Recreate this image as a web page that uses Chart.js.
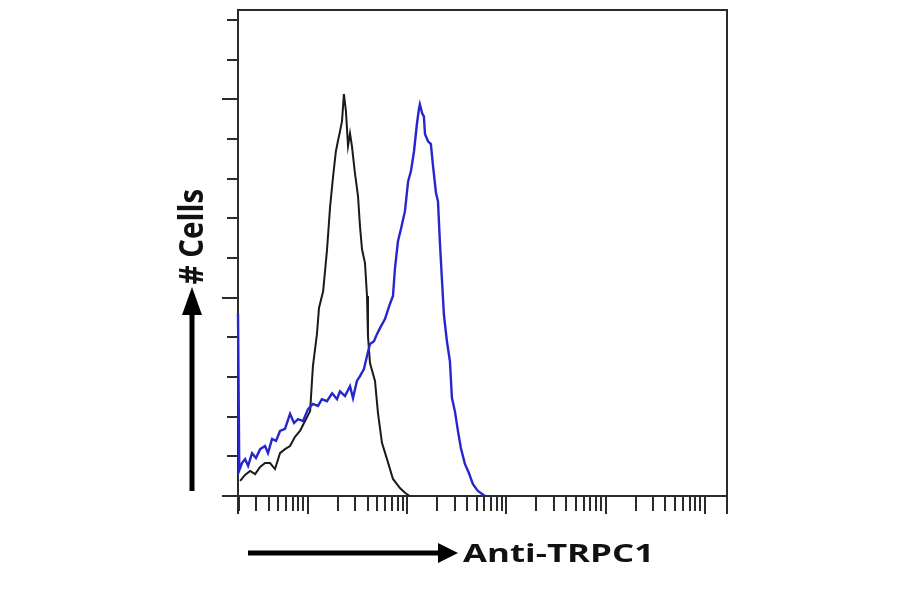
<!DOCTYPE html>
<html>
<head>
<meta charset="utf-8">
<title>Anti-TRPC1 flow histogram</title>
<script src="https://cdn.jsdelivr.net/npm/chart.js@4/dist/chart.umd.min.js"></script>
<style>
  html, body { margin:0; padding:0; background:#fff; }
  #wrap { width:900px; height:594px; }
</style>
</head>
<body>
<div id="wrap"><canvas id="hist" width="900" height="594"></canvas></div>
<script>
/* ---------- 1.  Data (fluorescence intensity vs # cells) ---- */
const isoX  = [2.07,2.32,2.61,2.93,3.29,3.69,4.14,4.65,5.22,5.86,6.59,7.39,8.30,9.33,10.5,11.2,12.3,12.9,14.2,15.5,
               16.7,17.9,19.1,20.0,21.0,22.0,23.0,24.1,25.3,26.5,27.7,29.7,31.9,33.4,35.0,37.5,39.3,40.2,42.1,47.3,
               50.7,55.6,62.5,71.8,84.4,94.8,106];
const isoY  = [3.8,5.3,6.3,5.5,7.3,8.3,8.3,6.8,10.8,11.8,12.6,14.9,16.4,18.9,21.4,32.7,40.8,47.4,51.6,61.7,
               73.0,80.6,86.9,89.4,91.9,94.5,101.3,97.0,88.2,91.4,88.2,81.4,75.6,68.0,62.2,58.7,50.4,40.3,33.5,29.0,
               20.9,13.4,9.3,4.3,2.0,0.8,0];

const trpX  = [1.97,2.03,2.16,2.32,2.49,2.73,2.99,3.29,3.69,3.95,4.34,4.76,5.22,5.86,6.59,7.23,7.93,8.91,10.0,11.2,
               12.6,13.8,15.5,17.5,19.6,21.0,23.6,26.5,28.4,31.1,33.4,36.6,39.3,42.1,46.2,49.5,53.1,59.6,66.9,71.8,
               75.2,80.6,86.4,94.8,102,109,117,125,131,134,141,147,151,162,173,182,195,204,213,224,
               234,251,269,282,302,324,347,381,418,459,515,606];
const trpY  = [46.0,6.5,8.3,9.3,7.6,10.8,9.6,11.8,12.6,10.8,14.4,13.9,16.4,16.9,20.7,18.4,19.4,18.9,21.9,23.2,
               22.7,24.4,23.9,25.9,24.4,26.4,25.2,27.7,24.7,29.0,30.2,32.0,35.3,38.3,39.0,40.8,42.3,44.6,48.4,50.4,
               57.4,64.2,67.3,71.8,79.3,81.9,86.9,93.7,97.5,98.7,96.5,95.7,91.2,89.4,88.7,83.1,76.3,74.3,64.2,54.2,
               45.8,39.0,34.0,24.7,21.4,16.4,12.1,8.1,5.8,3.0,1.3,0];

/* ---------- 2.  Axis ranges / ticks ---------------------- */
const xMin = 1.97, xMax = 166700;
const yMin = 0,    yMax = 122.5;
const yTicks      = [0,10,20,30,40,50,60,70,80,90,100,110,120];
const yMajorTicks = [0,50,100];
const xDecades    = [1,10,100,1000,10000,100000];

const toPts = (xs, ys) => xs.map((x,i) => ({x, y: ys[i]}));

/* ---------- 3.  Helpers ---------------------------------- */
const INK = "#2b2b2b";

function fitText(ctx, txt, cx, cy, w, h, rot){
  ctx.save();
  ctx.font = 'bold 40px "Open Sans", "Liberation Sans", sans-serif';
  ctx.textAlign = "left"; ctx.textBaseline = "alphabetic";
  const m  = ctx.measureText(txt);
  const tw = m.actualBoundingBoxLeft + m.actualBoundingBoxRight;
  const th = m.actualBoundingBoxAscent + m.actualBoundingBoxDescent;
  ctx.translate(cx, cy); ctx.rotate(rot); ctx.scale(w/tw, h/th);
  ctx.fillStyle = "#111";
  ctx.fillText(txt, -(m.actualBoundingBoxRight - m.actualBoundingBoxLeft)/2,
                    (m.actualBoundingBoxAscent - m.actualBoundingBoxDescent)/2);
  ctx.restore();
}

function arrow(ctx, x0, y0, x1, y1, shaft, headLen, headW){
  const a = Math.atan2(y1-y0, x1-x0), len = Math.hypot(x1-x0, y1-y0);
  ctx.save(); ctx.translate(x0, y0); ctx.rotate(a); ctx.fillStyle = "#000";
  ctx.fillRect(0, -shaft/2, len-headLen+1, shaft);
  ctx.beginPath(); ctx.moveTo(len, 0); ctx.lineTo(len-headLen, -headW/2); ctx.lineTo(len-headLen, headW/2);
  ctx.closePath(); ctx.fill(); ctx.restore();
}

/* frame + hand-made tick marks (log minors on x) */
const framePlugin = {
  id: "frame",
  beforeDatasetsDraw(chart){
    const {ctx, chartArea:{left,right,top,bottom}, scales:{x,y}} = chart;
    ctx.save();
    ctx.strokeStyle = INK; ctx.lineWidth = 2;
    ctx.strokeRect(left, top, right-left, bottom-top);

    ctx.beginPath();
    /* y ticks, outside left */
    yTicks.forEach(v => {
      const py = Math.round(y.getPixelForValue(v));
      const len = yMajorTicks.includes(v) ? 16 : 11;
      ctx.moveTo(left - len, py); ctx.lineTo(left, py);
    });
    /* x ticks, outside bottom */
    xDecades.forEach(d => {
      for (let m = 1; m <= 9; m++) {
        const v = m*d; if (v < xMin || v > xMax) continue;
        const px = Math.round(x.getPixelForValue(v));
        ctx.moveTo(px, bottom); ctx.lineTo(px, bottom + (m === 1 ? 18 : 15));
      }
    });
    /* axis ends run down too */
    ctx.moveTo(left, bottom); ctx.lineTo(left, bottom + 18);
    ctx.moveTo(right, bottom); ctx.lineTo(right, bottom + 18);
    ctx.stroke();
    ctx.restore();
  },
  afterDraw(chart){
    const ctx = chart.ctx;
    /* # Cells + arrow */
    arrow(ctx, 192, 491, 192, 287, 5, 28, 20);
    fitText(ctx, "# Cells", 190, 237, 95, 25, -Math.PI/2);
    /* Anti-TRPC1 + arrow */
    arrow(ctx, 248, 553, 458, 553, 5, 20, 20);
    fitText(ctx, "Anti-TRPC1", 556, 552, 186, 19, 0);
  }
};

/* ---------- 4.  Chart ------------------------------------ */
new Chart(document.getElementById("hist"), {
  type: "line",
  data: {
    datasets: [
      { label: "Anti-TRPC1", data: toPts(trpX, trpY), borderColor: "rgb(38,38,205)", borderWidth: 2.4, clip: false },
      { label: "Isotype",    data: toPts(isoX, isoY), borderColor: "#1a1a1a",        borderWidth: 2,   clip: false }
    ]
  },
  options: {
    responsive: false,
    animation: false,
    layout: { padding: { left: 238, right: 173, top: 10, bottom: 98 } },
    elements: { point: { radius: 0 }, line: { tension: 0 } },
    scales: {
      x: { type: "logarithmic", min: xMin, max: xMax, display: false },
      y: { type: "linear", min: yMin, max: yMax, display: false }
    },
    plugins: { legend: { display: false }, tooltip: { enabled: false } }
  },
  plugins: [framePlugin]
});
</script>
</body>
</html>
